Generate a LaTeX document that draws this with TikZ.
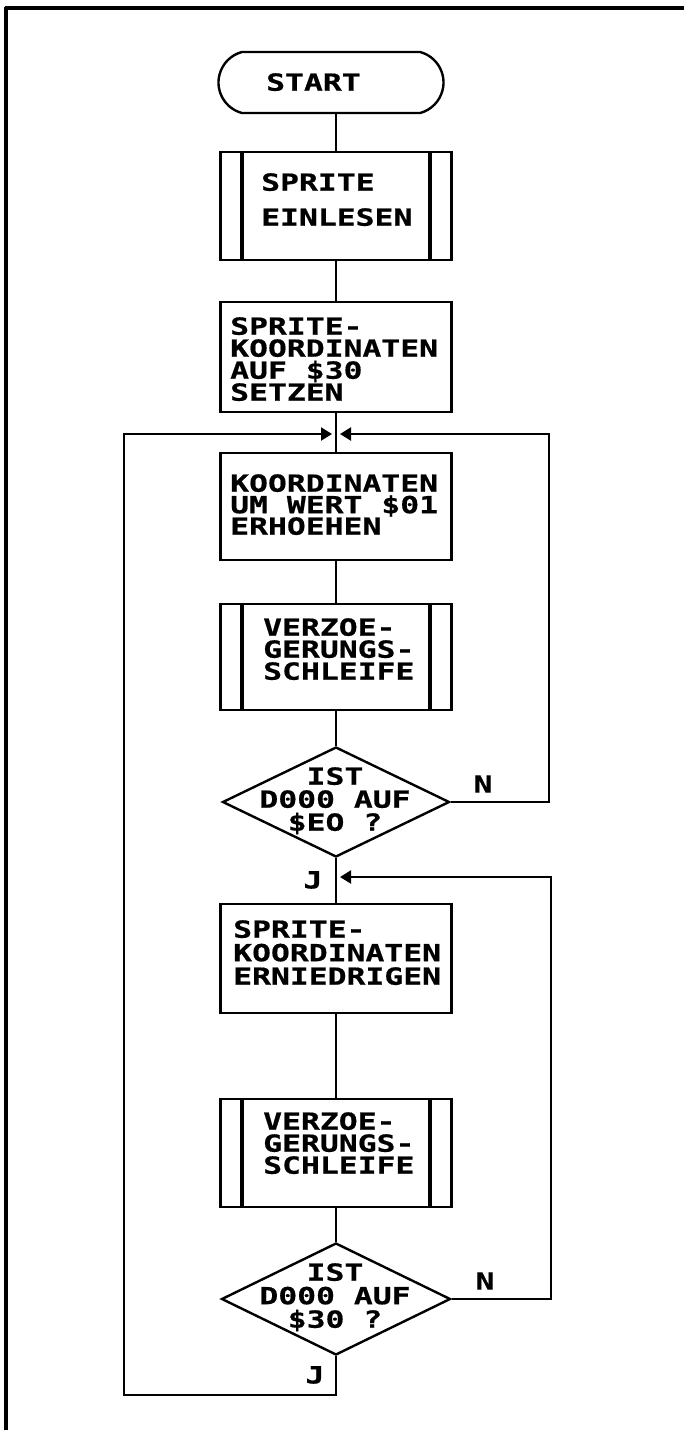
\documentclass[tikz,border=0pt]{standalone}
\usepackage{fontspec}
\usetikzlibrary{shapes.geometric,shapes.misc,arrows.meta}
\newfontfamily\dmfont[FakeStretch=1.33,FakeBold=0.6]{DejaVu Sans Mono}
\newcommand\dmsize[1]{\dmfont\bfseries\fontsize{23.6}{#1}\selectfont\lineskiplimit=-60pt\lineskip=0pt}
\begin{document}
\begin{tikzpicture}[x=1pt,y=-1pt,
  ln/.style={line width=2.2pt},
  frameline/.style={line width=3.2pt},
  boxshape/.style={draw,line width=2.4pt,rectangle,minimum width=231pt,inner sep=0pt},
  termshape/.style={draw,line width=2.4pt,rounded rectangle,rounded rectangle arc length=150,minimum width=225pt,minimum height=61pt,inner sep=0pt},
  decshape/.style={draw,line width=2.4pt,diamond,minimum width=227pt,minimum height=111pt,inner sep=0pt},
  barline/.style={line width=4pt},
  txt/.style={inner sep=0pt,align=left,font=\dmsize{22}},
  ctxt/.style={inner sep=0pt,align=center,font=\dmsize{23}},
  arr/.style={ln,-{Triangle[length=11pt,width=13pt]}}
]
\useasboundingbox (0,0) rectangle (684,1430);
% frame
\draw[frameline] (5,8) -- (684,8);
\draw[frameline] (6,7) -- (6,1430);

% shapes
\node[termshape] (start) at (331,82.5) {};
\node[boxshape,minimum height=108pt] (b2) at (336,206) {};
\node[boxshape,minimum height=110pt] (b3) at (336,357) {};
\node[boxshape,minimum height=107pt] (b4) at (336,506.5) {};
\node[boxshape,minimum height=106pt] (b5) at (336,657) {};
\node[decshape,minimum height=110pt] (d1) at (336,802) {};
\node[boxshape,minimum height=109pt] (b6) at (336,958.5) {};
\node[boxshape,minimum height=108pt] (b7) at (336,1153) {};
\node[decshape,minimum width=229pt,minimum height=112pt] (d2) at (336,1299) {};

% predefined-process bars
\foreach \b in {b2,b5,b7}{
  \draw[barline] ([xshift=23pt]\b.north west) -- ([xshift=23pt]\b.south west);
  \draw[barline] ([xshift=-23pt]\b.north east) -- ([xshift=-23pt]\b.south east);
}

% texts
\node[txt,anchor=north west] (tstart) at (266,73) {START};
\node[txt,anchor=north west,font=\dmsize{35}] (t2) at (261,173) {SPRITE\\EINLESEN};
\node[txt,anchor=north west] (t3) at (230,317) {SPRITE-\\KOORDINATEN\\AUF \$30\\SETZEN};
\node[txt,anchor=north west,font=\dmsize{21.5}] (t4) at (230,474) {KOORDINATEN\\UM WERT \$01\\ERHOEHEN};
\node[txt,anchor=north west] (t5) at (263,618) {VERZOE-\\GERUNGS-\\SCHLEIFE};
\node[ctxt,anchor=north] (td1) at (335,767) {IST\\D000 AUF\\\$EO ?};
\node[txt,anchor=north west,font=\dmsize{23.5}] (t6) at (233,920) {SPRITE-\\KOORDINATEN\\ERNIEDRIGEN};
\node[txt,anchor=north west] (t7) at (263,1112) {VERZOE-\\GERUNGS-\\SCHLEIFE};
\node[ctxt,anchor=north,font=\dmsize{23.5}] (td2) at (335,1263) {IST\\D000 AUF\\\$30 ?};

% labels
\node[txt] (n1) at (483,784) {N};
\node[txt] (n2) at (485,1281) {N};
\node[txt] (j1) at (313,880) {J};
\node[txt] (j2) at (315,1375) {J};

% helper coordinates
\coordinate (jn1) at (336,434);
\coordinate (jn2) at (336,877);
\coordinate (rr1) at (549,0);
\coordinate (rr2) at (551,0);
\coordinate (ll) at (124,1395);

% main flow
\draw[ln] (b2.north |- start.south) -- (b2.north);
\draw[ln] (b2.south) -- (b3.north);
\draw[ln] (b3.south) -- (b4.north);
\draw[ln] (b4.south) -- (b5.north);
\draw[ln] (b5.south) -- (d1.north);
\draw[ln] (d1.south) -- (b6.north);
\draw[ln] (b6.south) -- (b7.north);
\draw[ln] (b7.south) -- (d2.north);

% loops
\draw[arr] (d1.east) -- (d1.east -| rr1) |- ([xshift=4pt]jn1);
\draw[arr] (d2.south) |- (ll) |- ([xshift=-4pt]jn1);
\draw[arr] (d2.east) -- (d2.east -| rr2) |- ([xshift=4pt]jn2);
\end{tikzpicture}
\end{document}
